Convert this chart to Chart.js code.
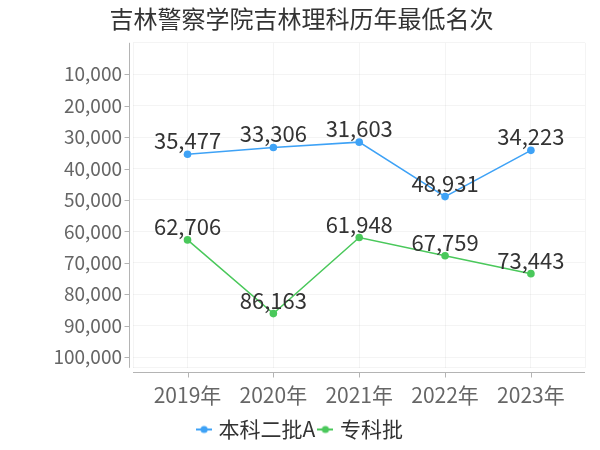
<!DOCTYPE html>
<html>
<head>
<meta charset="utf-8">
<script src="https://cdn.jsdelivr.net/npm/chart.js@4/dist/chart.umd.min.js"></script>
<style>
html,body{margin:0;padding:0;background:#fff;}
#wrap{width:600px;height:450px;}
</style>
</head>
<body>
<div id="wrap"><canvas id="c" width="600" height="450"></canvas></div>
<script>
const titleText = "吉林警察学院吉林理科历年最低名次";
const years = ["2019年", "2020年", "2021年", "2022年", "2023年"];
const seriesNames = ["本科二批A", "专科批"];
const benke2A = [35477, 33306, 31603, 48931, 34223];
const zhuanke = [62706, 86163, 61948, 67759, 73443];
const yTicks = [10000, 20000, 30000, 40000, 50000, 60000, 70000, 80000, 90000, 100000];
const colors = ["#3ea2f6", "#4ac85b"];

const FONT = "'Noto Sans CJK SC', 'Noto Sans', sans-serif";
const X_MIN = -0.635, X_MAX = 4.63;
const Y_MIN = 0, Y_MAX = 103400;

function markerImg(color) {
  const c = document.createElement('canvas');
  c.width = 16; c.height = 10;
  const g = c.getContext('2d');
  g.strokeStyle = color; g.lineWidth = 2;
  g.beginPath(); g.moveTo(0, 5); g.lineTo(16, 5); g.stroke();
  g.fillStyle = color;
  g.beginPath(); g.arc(8, 5, 3.6, 0, Math.PI * 2); g.fill();
  return c;
}

const toPts = arr => arr.map((v, i) => ({x: i, y: v}));

const valueLabels = {
  id: 'valueLabels',
  afterDatasetsDraw(chart) {
    const ctx = chart.ctx;
    ctx.save();
    ctx.font = "22px " + FONT;
    ctx.fillStyle = "#333";
    ctx.textAlign = "center";
    ctx.textBaseline = "alphabetic";
    chart.data.datasets.forEach((ds, di) => {
      const meta = chart.getDatasetMeta(di);
      meta.data.forEach((el, i) => {
        const v = ds.data[i].y;
        ctx.fillText(v.toLocaleString('en-US'), el.x, el.y - 5);
      });
    });
    ctx.restore();
  }
};

const axisLines = {
  id: 'axisLines',
  afterDraw(chart) {
    const {ctx, chartArea: a, scales} = chart;
    ctx.save();
    ctx.strokeStyle = "#b4b4b4";
    ctx.lineWidth = 1;
    const yx = Math.round(a.left - 4) + 0.5;
    ctx.beginPath(); ctx.moveTo(yx, a.top); ctx.lineTo(yx, a.bottom); ctx.stroke();
    const xy = Math.round(a.bottom + 4) + 0.5;
    ctx.beginPath(); ctx.moveTo(a.left, xy); ctx.lineTo(a.right, xy); ctx.stroke();
    yTicks.forEach(v => {
      const py = Math.round(scales.y.getPixelForValue(v)) + 0.5;
      ctx.beginPath(); ctx.moveTo(yx - 5, py); ctx.lineTo(yx, py); ctx.stroke();
    });
    years.forEach((_, i) => {
      const px = Math.round(scales.x.getPixelForValue(i)) + 0.5;
      ctx.beginPath(); ctx.moveTo(px, xy); ctx.lineTo(px, xy + 5); ctx.stroke();
    });
    ctx.restore();
  }
};

new Chart(document.getElementById('c'), {
  type: 'line',
  data: {
    datasets: [
      {label: seriesNames[0], data: toPts(benke2A), borderColor: colors[0], backgroundColor: colors[0],
       borderWidth: 1.5, pointRadius: 3.8, pointHoverRadius: 3.8, pointBorderWidth: 0, tension: 0},
      {label: seriesNames[1], data: toPts(zhuanke), borderColor: colors[1], backgroundColor: colors[1],
       borderWidth: 1.5, pointRadius: 3.8, pointHoverRadius: 3.8, pointBorderWidth: 0, tension: 0}
    ]
  },
  options: {
    responsive: false,
    animation: false,
    events: [],
    layout: {padding: {left: 12, right: 9, top: 0, bottom: 0}},
    plugins: {
      title: {display: true, text: titleText, color: "#333",
              font: {family: FONT, size: 24, weight: 'normal'}, padding: {top: 4, bottom: 10}},
      legend: {
        position: 'bottom',
        labels: {
          color: "#333", font: {family: FONT, size: 21},
          usePointStyle: true, pointStyleWidth: 8, padding: 6,
          generateLabels(chart) {
            return chart.data.datasets.map((ds, i) => ({
              text: ds.label, pointStyle: markerImg(colors[i]), fontColor: "#333",
              strokeStyle: colors[i], fillStyle: colors[i], lineWidth: 0, datasetIndex: i, hidden: false
            }));
          }
        }
      },
      tooltip: {enabled: false}
    },
    scales: {
      x: {
        type: 'linear', min: X_MIN, max: X_MAX,
        afterBuildTicks(s) { s.ticks = [X_MIN, 0, 1, 2, 3, 4, X_MAX].map(v => ({value: v})); },
        afterFit(s) { s.height = s.height - 10; },
        ticks: {autoSkip: false, maxRotation: 0, color: "#666", font: {family: FONT, size: 21}, padding: 15,
                callback: v => Number.isInteger(v) ? years[v] : ''},
        grid: {color: "rgba(0,0,0,0.045)", drawTicks: false},
        border: {display: false}
      },
      y: {
        type: 'linear', reverse: true, min: Y_MIN, max: Y_MAX,
        afterBuildTicks(s) { s.ticks = [Y_MIN].concat(yTicks, [Y_MAX]).map(v => ({value: v})); },
        afterFit(s) { s.width = 121; },
        ticks: {autoSkip: false, color: "#666", font: {family: FONT, size: 19}, padding: 11,
                callback: v => yTicks.includes(v) ? v.toLocaleString('en-US') : ''},
        grid: {color: "rgba(0,0,0,0.045)", drawTicks: false},
        border: {display: false}
      }
    }
  },
  plugins: [valueLabels, axisLines]
});
</script>
</body>
</html>
